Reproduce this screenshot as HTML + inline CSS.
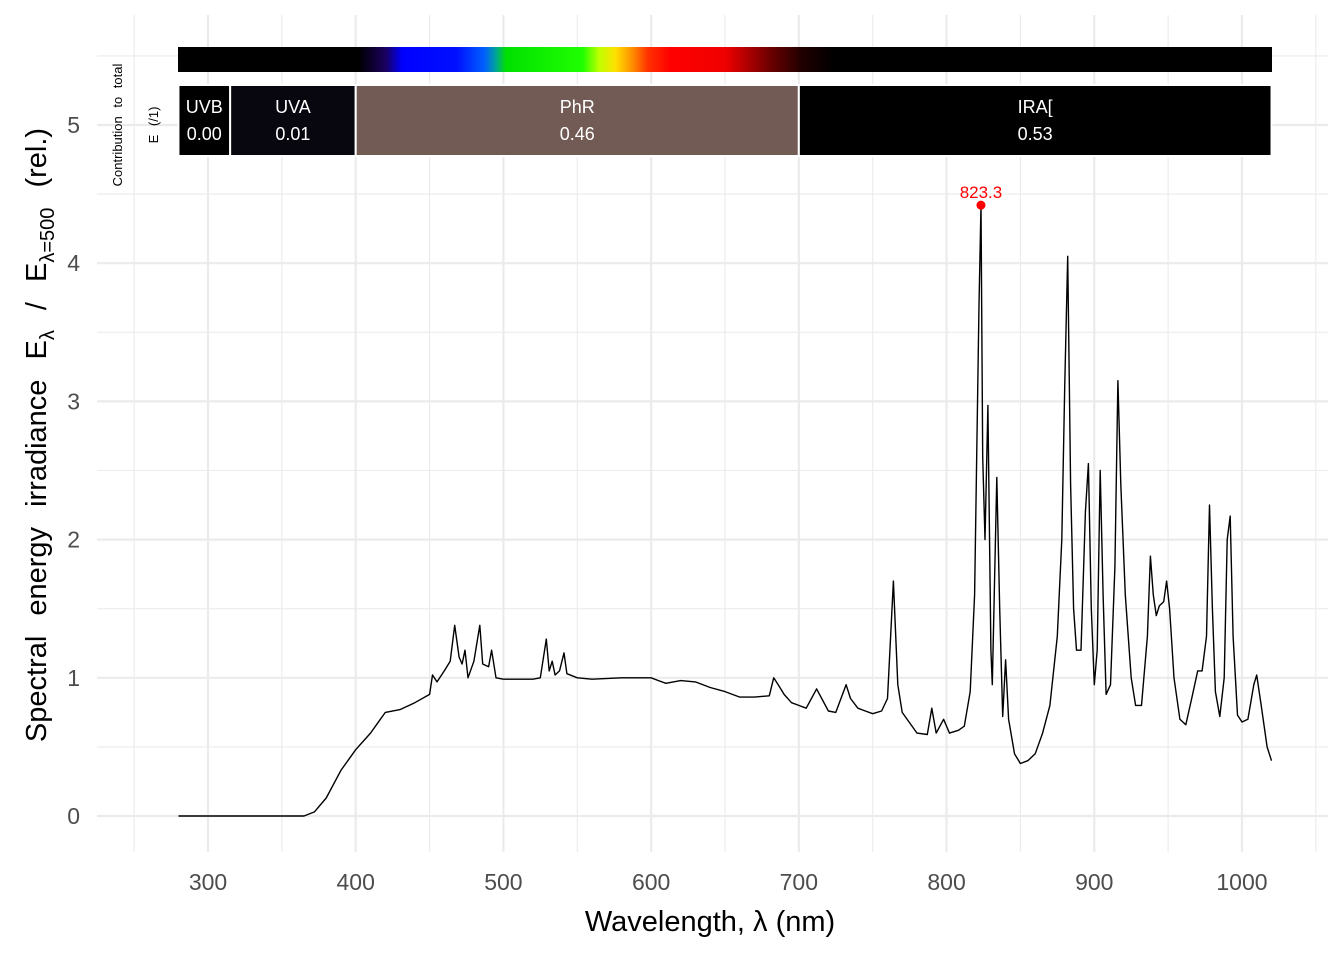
<!DOCTYPE html>
<html><head><meta charset="utf-8"><style>
body{margin:0;background:#fff}
svg{display:block;font-family:"Liberation Sans","DejaVu Sans",sans-serif}
</style></head><body>
<svg id="chart" width="1344" height="960" viewBox="0 0 1344 960" xmlns="http://www.w3.org/2000/svg">
<defs>
<linearGradient id="spec" x1="178" x2="1272" y1="0" y2="0" gradientUnits="userSpaceOnUse">
<stop offset="0" stop-color="#000"/>
<stop offset="0.165" stop-color="#000"/>
<stop offset="0.19" stop-color="#1a0060"/>
<stop offset="0.205" stop-color="#0000ff"/>
<stop offset="0.255" stop-color="#0010ff"/>
<stop offset="0.28" stop-color="#0060ff"/>
<stop offset="0.29" stop-color="#00a0a0"/>
<stop offset="0.3" stop-color="#00e000"/>
<stop offset="0.37" stop-color="#20ff00"/>
<stop offset="0.385" stop-color="#c0ff00"/>
<stop offset="0.4" stop-color="#ffe000"/>
<stop offset="0.415" stop-color="#ff9000"/>
<stop offset="0.43" stop-color="#ff3000"/>
<stop offset="0.45" stop-color="#ff0000"/>
<stop offset="0.5" stop-color="#f00000"/>
<stop offset="0.54" stop-color="#700000"/>
<stop offset="0.57" stop-color="#200000"/>
<stop offset="0.6" stop-color="#000"/>
<stop offset="1" stop-color="#000"/>
</linearGradient>
</defs>
<g id="grid"></g>
<g id="axes"></g>
<rect x="178" y="47" width="1094" height="25" fill="url(#spec)"/>
<g id="bands"></g>
<text transform="translate(122,125) rotate(-90)" font-size="13" word-spacing="5" text-anchor="middle">Contribution to total</text>
<text transform="translate(158,125) rotate(-90)" font-size="13" word-spacing="5" text-anchor="middle">E (/1)</text>
<path id="line" fill="none" stroke="#000" stroke-width="1.4" stroke-linejoin="round"/>
<g id="peak"></g>
<text transform="translate(46,435) rotate(-90)" font-size="29" word-spacing="12" text-anchor="middle">Spectral energy irradiance E<tspan font-size="20" dy="8">λ</tspan><tspan dy="-8"> / E</tspan><tspan font-size="20" dy="8">λ=500</tspan><tspan dy="-8"> (rel.)</tspan></text>
<text x="710" y="931" font-size="29" text-anchor="middle">Wavelength, λ (nm)</text>
</svg>
<script>
const wl = [280,365,372,380,390,400,410,420,430,440,450,452,455,460,464,467,470,472,474,476,480,484,486,490,492,495,500,510,520,525,529,531,533,535,538,541,543,550,560,580,600,605,610,620,630,640,650,660,670,680,683,686,690,695,700,705,712,720,725,732,735,740,745,750,756,760,764,767,770,780,787,790,793,798,802,808,812,816,819,822,823.3,824.5,826,828,830,831,834,836,838,840,842,846,850,855,860,865,870,875,878,880,882,884,886,888,891,894,896,898,900,902,904,906,908,911,914,916,918,921,925,928,932,936,938,940,942,944,947,949,951,954,958,962,966,970,973,976,978,980,982,985,988,990,992,994,997,1000,1004,1008,1010,1013,1017,1020];
const irr = [0,0,0.03,0.13,0.33,0.48,0.6,0.75,0.77,0.82,0.88,1.02,0.97,1.05,1.12,1.38,1.15,1.1,1.2,1.0,1.12,1.38,1.1,1.08,1.2,1.0,0.99,0.99,0.99,1.0,1.28,1.05,1.12,1.02,1.05,1.18,1.03,1.0,0.99,1.0,1.0,0.98,0.96,0.98,0.97,0.93,0.9,0.86,0.86,0.87,1.0,0.95,0.88,0.82,0.8,0.78,0.92,0.76,0.75,0.95,0.85,0.78,0.76,0.74,0.76,0.85,1.7,0.95,0.75,0.6,0.59,0.78,0.6,0.7,0.6,0.62,0.65,0.9,1.6,3.7,4.42,2.6,2.0,2.97,1.2,0.95,2.45,1.5,0.72,1.13,0.7,0.45,0.38,0.4,0.45,0.6,0.8,1.3,2.0,3.1,4.05,2.4,1.5,1.2,1.2,2.2,2.55,1.5,0.95,1.2,2.5,1.6,0.88,0.95,1.8,3.15,2.4,1.6,1.0,0.8,0.8,1.3,1.88,1.6,1.45,1.52,1.55,1.7,1.5,1.0,0.7,0.66,0.85,1.05,1.05,1.3,2.25,1.5,0.9,0.72,1.0,2.0,2.17,1.3,0.73,0.68,0.7,0.95,1.02,0.8,0.5,0.4];
const xTicks = [300,400,500,600,700,800,900,1000];
const yTicks = [0,1,2,3,4,5];
const bandNames = ["UVB","UVA","PhR","IRA["];
const bandLo = [280,315,400,700];
const bandHi = [315,400,700,1020];
const bandVals = ["0.00","0.01","0.46","0.53"];
const bandColors = ["#000000","#08060f","#735b55","#000000"];
const peakWl = 823.3, peakVal = 4.42;

const X = nm => 208 + (nm - 300) * 1.4771;
const Y = v => 816 - v * 138.2;
const NS = "http://www.w3.org/2000/svg";
function mk(tag, attrs, parent, txt){const e=document.createElementNS(NS,tag);for(const k in attrs)e.setAttribute(k,attrs[k]);if(txt!==undefined)e.textContent=txt;parent.appendChild(e);return e;}
const grid=document.getElementById('grid'), axes=document.getElementById('axes');
for(let nm=250;nm<=1050;nm+=50){
  const major = nm%100===0;
  const l=mk('line',{x1:X(nm),x2:X(nm),y1:15,y2:852,stroke:'#ebebeb','stroke-width':major?2.2:1.1},grid);
  
  
}
for(let v=0;v<=5.5;v+=0.5){
  const major = Math.abs(v-Math.round(v))<1e-9;
  const l=mk('line',{x1:97,x2:1328,y1:Y(v),y2:Y(v),stroke:'#ebebeb','stroke-width':major?2.2:1.1},grid);
  
  
}
xTicks.forEach(t=>{
  const e=mk('text',{x:X(t),y:890,'font-size':23,fill:'#4d4d4d','text-anchor':'middle'},axes,String(t));
  
  
});
yTicks.forEach(t=>{
  const e=mk('text',{x:80,y:Y(t)+8,'font-size':23,fill:'#4d4d4d','text-anchor':'end'},axes,String(t));
  
  
});
const bands=document.getElementById('bands');
bandNames.forEach((n,i)=>{
  const x0=X(bandLo[i]), x1=X(bandHi[i]);
  const r=mk('rect',{x:x0,y:85,width:x1-x0,height:71,fill:bandColors[i],stroke:'#fff','stroke-width':2},bands);
  
  
  const t1=mk('text',{x:(x0+x1)/2,y:113,'font-size':18,fill:'#fff','text-anchor':'middle'},bands,n);
  
  
  const t2=mk('text',{x:(x0+x1)/2,y:140,'font-size':18,fill:'#fff','text-anchor':'middle'},bands,bandVals[i]);
  
  
});
let d='';
wl.forEach((w,i)=>{d+=(i?'L':'M')+X(w).toFixed(1)+','+Y(irr[i]).toFixed(1);});
document.getElementById('line').setAttribute('d',d);
const pk=document.getElementById('peak');
const c=mk('circle',{cx:X(peakWl),cy:Y(peakVal),r:4.5,fill:'#ff0000'},pk);


const pt=mk('text',{x:X(peakWl),y:Y(peakVal)-7,'font-size':17,fill:'#ff0000','text-anchor':'middle'},pk,String(peakWl));


</script>
</body></html>
